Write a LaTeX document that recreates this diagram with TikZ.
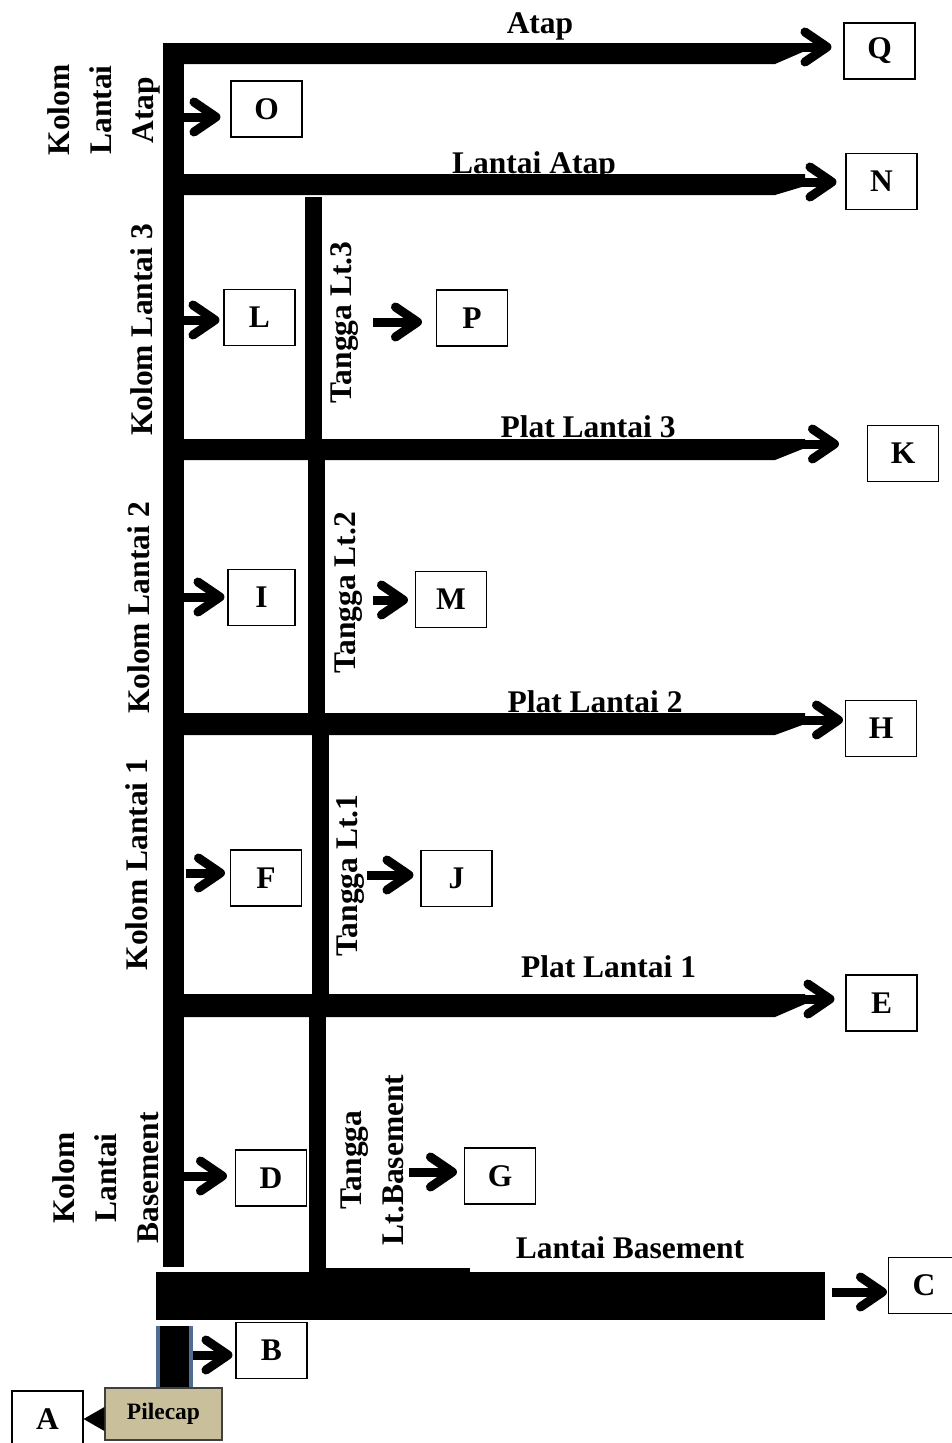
\documentclass[tikz,border=0pt]{standalone}
\usepackage{fontspec}
\setmainfont{Liberation Serif}
\usetikzlibrary{arrows.meta}
\definecolor{pilecapfill}{HTML}{C9C09B}
\definecolor{pileedge}{HTML}{4F6E96}
\newcommand\figfont{\fontsize{31.5}{42}\selectfont\bfseries}
\newcommand\pilefont{\fontsize{23.5}{28}\selectfont\bfseries}
\begin{document}
\begin{tikzpicture}[x=1pt,y=-1pt,
  box/.style={draw=black, line width=1.1pt, fill=white, minimum width=71pt, minimum height=56pt, inner sep=0pt, font=\figfont},
  lbl/.style={font=\figfont, inner sep=0pt},
  vlbl/.style={font=\figfont, inner sep=0pt, rotate=90, align=center},
  chev/.style={line width=9pt, -{Straight Barb[round, length=22pt, width=30pt]}},
  bar/.style={fill=black}]
\useasboundingbox (0,0) rectangle (952,1443);

% columns
\fill[bar] (163,43) rectangle (184,1267);
\fill[bar] (305,197) rectangle (322,449);
\fill[bar] (308,449) rectangle (325,724);
\fill[bar] (312,724) rectangle (329,1006);
\fill[bar] (309,1006) rectangle (326,1272);

% horizontal bars with tapered ends
\fill[bar] (163,43) -- (805,43) -- (805,51) -- (775,64) -- (163,64) -- cycle;
\fill[bar] (163,174) -- (805,174) -- (805,186) -- (775,195) -- (163,195) -- cycle;
\fill[bar] (163,439) -- (805,439) -- (805,448) -- (775,460) -- (163,460) -- cycle;
\fill[bar] (163,713) -- (805,713) -- (805,724) -- (775,735) -- (163,735) -- cycle;
\fill[bar] (163,994) -- (805,994) -- (805,1004) -- (775,1017) -- (163,1017) -- cycle;
\fill[bar] (156,1272) rectangle (825,1320);
\fill[bar] (309,1268) rectangle (470,1273);

% pile column
\fill[pileedge] (156,1326) rectangle (193,1388);
\fill[bar] (160,1326) rectangle (189,1388);

% boxes
\node[box] (Q) at (879.5,51) {Q};
\node[box] (N) at (881.5,181.5) {N};
\node[box] (K) at (903,453.5) {K};
\node[box] (H) at (881,728.5) {H};
\node[box] (E) at (881.5,1003) {E};
\node[box] (O) at (266.5,109) {O};
\node[box] (L) at (259.5,317.5) {L};
\node[box] (P) at (472,318) {P};
\node[box, minimum width=67pt] (I) at (261.5,597.5) {I};
\node[box] (M) at (451,599.5) {M};
\node[box] (F) at (266,878) {F};
\node[box] (J) at (456.5,878.5) {J};
\node[box] (D) at (271,1178) {D};
\node[box] (G) at (500,1176) {G};
\node[box] (C) at (924,1285.5) {C};
\node[box] (B) at (271.5,1350.5) {B};
\node[box] (A) at (47.5,1419) {A};
\node[draw=black!75, line width=1.2pt, fill=pilecapfill, minimum width=117pt, minimum height=52pt, inner sep=0pt, font=\pilefont] (pile) at (163.5,1414) {Pilecap};

% arrows from bars
\coordinate (sQ) at (798,47);
\coordinate (sN) at (798,182);
\coordinate (sK) at (798,444);
\coordinate (sH) at (798,720);
\coordinate (sE) at (798,999);
\coordinate (sC) at (832,1292);
\draw[chev, shorten >=12pt] (sQ) -- (sQ -| Q.west);
\draw[chev, shorten >=9pt] (sN) -- (sN -| N.west);
\draw[chev, shorten >=28pt] (sK) -- (sK -| K.west);
\draw[chev, shorten >=2pt] (sH) -- (sH -| H.west);
\draw[chev, shorten >=11pt] (sE) -- (sE -| E.west);
\draw[chev, shorten >=1pt] (sC) -- (sC -| C.west);

% arrows from columns
\coordinate (sO) at (184,117);
\coordinate (sL) at (184,320);
\coordinate (sI) at (184,597);
\coordinate (sF) at (186,873);
\coordinate (sD) at (184,1176);
\coordinate (sB) at (193,1355);
\coordinate (sP) at (373,322);
\coordinate (sM) at (373,600);
\coordinate (sJ) at (367,875);
\coordinate (sG) at (409,1172);
\draw[chev, shorten >=10pt] (sO) -- (sO -| O.west);
\draw[chev, shorten >=4pt] (sL) -- (sL -| L.west);
\draw[chev, shorten >=3pt] (sI) -- (sI -| I.west);
\draw[chev, shorten >=5pt] (sF) -- (sF -| F.west);
\draw[chev, shorten >=8pt] (sD) -- (sD -| D.west);
\draw[chev, shorten >=3pt] (sB) -- (sB -| B.west);
\draw[chev, shorten >=14pt] (sP) -- (sP -| P.west);
\draw[chev, shorten >=7pt] (sM) -- (sM -| M.west);
\draw[chev, shorten >=7pt] (sJ) -- (sJ -| J.west);
\draw[chev, shorten >=7pt] (sG) -- (sG -| G.west);

% pilecap to A
\fill ([yshift=12pt]A.east -| pile.west) -- (A.east) -- ([yshift=-12pt]A.east -| pile.west) -- cycle;

% labels
\node[lbl, anchor=base] at (540,33) {Atap};
\node[lbl, anchor=base] at (534,173) {Lantai Atap};
\node[lbl, anchor=base] at (588,437) {Plat Lantai 3};
\node[lbl, anchor=base] at (595,712) {Plat Lantai 2};
\node[lbl, anchor=base] at (608.5,977) {Plat Lantai 1};
\node[lbl, anchor=base] at (630,1258) {Lantai Basement};

\node[vlbl] at (104,110) {Kolom\\Lantai\\Atap};
\node[vlbl] at (141.5,330) {Kolom Lantai 3};
\node[vlbl] at (139,608) {Kolom Lantai 2};
\node[vlbl] at (137,864.5) {Kolom Lantai 1};
\node[vlbl] at (106,1178) {Kolom\\Lantai\\Basement};
\node[vlbl] at (345,322.5) {Tangga Lt.3};
\node[vlbl] at (349,593) {Tangga Lt.2};
\node[vlbl] at (351,875.5) {Tangga Lt.1};
\node[vlbl] at (372,1160) {Tangga\\Lt.Basement};
\end{tikzpicture}
\end{document}
